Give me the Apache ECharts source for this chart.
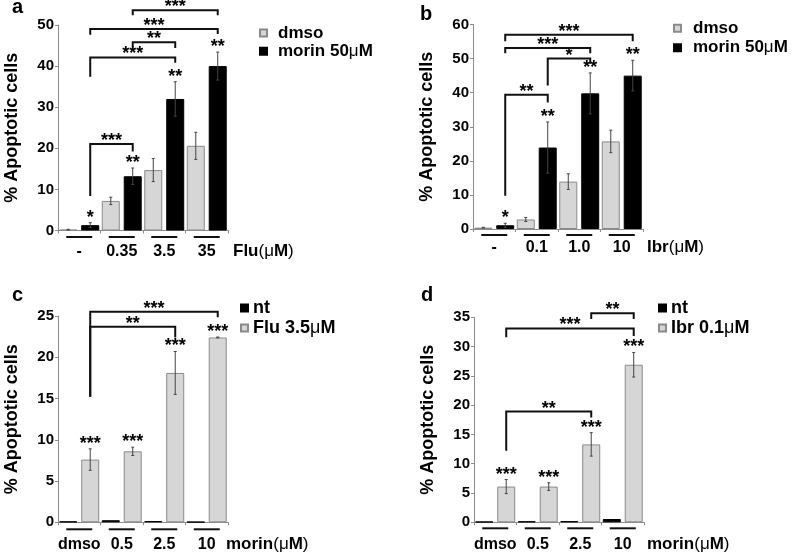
<!DOCTYPE html>
<html>
<head>
<meta charset="utf-8">
<script src="https://cdn.jsdelivr.net/npm/echarts@6/dist/echarts.min.js"></script>
<style>
html,body{margin:0;padding:0;background:#fff;}
#chart{width:797px;height:556px;}
</style>
</head>
<body>
<div id="chart"></div>
<script>
// ---------------- DATA ----------------
// Panel a
const catsA = ['-', '0.35', '3.5', '35'];
const dmsoA = [0.2, 7.2, 14.7, 20.6];
const dmsoErrA = [0.1, 0.9, 2.8, 3.3];
const morinA = [1.3, 13.2, 32.0, 40.0];
const morinErrA = [0.6, 2.0, 4.2, 3.4];
const dmsoStarsA = ['', '', '', ''];
const morinStarsA = ['*', '**', '**', '**'];
// [fromGroup, toGroup, level, leftLegEnd, rightLegEnd, label]
const bracketsA = [
  [0, 1, 21.05, 8.4, 19.2, '***'],
  [0, 2, 42.1, 37.4, 40.8, '***'],
  [1, 2, 45.8, 44.6, 44.4, '**'],
  [0, 3, 49.0, 47.6, 47.8, '***'],
  [1, 3, 53.6, 52.4, 52.4, '***']
];
const ticksA = [0, 50, 10];

// Panel b
const catsB = ['-', '0.1', '1.0', '10'];
const dmsoB = [0.4, 2.8, 13.9, 25.7];
const dmsoErrB = [0.1, 0.6, 2.3, 3.3];
const morinB = [1.1, 23.9, 39.8, 45.0];
const morinErrB = [0.6, 7.5, 6.0, 4.5];
const dmsoStarsB = ['', '', '', ''];
const morinStarsB = ['*', '**', '**', '**'];
const bracketsB = [
  [0, 1, 39.4, 9.75, 37.1, '**'],
  [1, 2, 50.0, 42.1, 48.5, '*'],
  [0, 2, 53.1, 51.6, 51.6, '***'],
  [0, 3, 57.0, 55.1, 55.1, '***']
];
const ticksB = [0, 60, 10];

// Panel c
const catsC = ['dmso', '0.5', '2.5', '10'];
const ntC = [0.1, 0.25, 0.15, 0.05];
const ntErrC = [0, 0, 0, 0];
const fluC = [7.6, 8.6, 18.1, 22.4];
const fluErrC = [1.3, 0.5, 2.6, 0.05];
const ntStarsC = ['', '', '', ''];
const fluStarsC = ['***', '***', '***', '***'];
const bracketsC = [
  [0, 3, 25.5, 15.2, 24.85, '***'],
  [0, 2, 23.7, 15.2, 22.4, '**']
];
const ticksC = [0, 25, 5];

// Panel d
const catsD = ['dmso', '0.5', '2.5', '10'];
const ntD = [0.1, 0.17, 0.2, 0.56];
const ntErrD = [0, 0, 0, 0];
const ibrD = [6.1, 6.1, 13.3, 26.9];
const ibrErrD = [1.2, 0.65, 2.0, 2.1];
const ntStarsD = ['', '', '', ''];
const ibrStarsD = ['***', '***', '***', '***'];
const bracketsD = [
  [0, 2, 18.9, 12.2, 17.9, '**'],
  [0, 3, 33.1, 31.6, 31.8, '***'],
  [2, 3, 35.7, 34.7, 34.7, '**']
];
const ticksD = [0, 35, 5];

// ---------------- STYLE / LAYOUT ----------------
const FONT = '"Liberation Sans", Arial, Helvetica, sans-serif';
const BAR_W = 18;
const BAR_GAP = 0.22;
const OFF = BAR_W * (1 + BAR_GAP) / 2;
const GRAY = {color: '#d6d6d6', borderColor: '#8a8a8a', borderWidth: 1};
const BLACK = {color: '#000000', borderColor: '#000000', borderWidth: 1};
const AXIS_COL = '#8c8c8c';
const STAR_FONT = 'bold 18px ' + FONT;

const panels = [
  {grid: {left: 58, top: 25, width: 170, height: 205.5}, cats: catsA, ticks: ticksA,
   names: ['dmso', 'morin 50μM'], vals: [dmsoA, morinA], errs: [dmsoErrA, morinErrA],
   stars: [dmsoStarsA, morinStarsA], styles: [GRAY, BLACK], brackets: bracketsA, labelMargin: 13.5, ulGap: 6.5},
  {grid: {left: 473, top: 24.5, width: 170, height: 204.5}, cats: catsB, ticks: ticksB,
   names: ['dmso', 'morin 50μM'], vals: [dmsoB, morinB], errs: [dmsoErrB, morinErrB],
   stars: [dmsoStarsB, morinStarsB], styles: [GRAY, BLACK], brackets: bracketsB, labelMargin: 11, ulGap: 6},
  {grid: {left: 58, top: 316, width: 170, height: 206.3}, cats: catsC, ticks: ticksC,
   names: ['nt', 'Flu 3.5μM'], vals: [ntC, fluC], errs: [ntErrC, fluErrC],
   stars: [ntStarsC, fluStarsC], styles: [BLACK, GRAY], brackets: bracketsC, labelMargin: 14.5, ulGap: 7},
  {grid: {left: 474, top: 317.3, width: 170, height: 205}, cats: catsD, ticks: ticksD,
   names: ['nt', 'Ibr 0.1μM'], vals: [ntD, ibrD], errs: [ntErrD, ibrErrD],
   stars: [ntStarsD, ibrStarsD], styles: [BLACK, GRAY], brackets: bracketsD, labelMargin: 14.5, ulGap: 6}
];

const grids = [], xAxes = [], yAxes = [], series = [];

panels.forEach((p, i) => {
  grids.push(Object.assign({outerBoundsMode: 'none', containLabel: false}, p.grid));
  xAxes.push({
    type: 'category', gridIndex: i, data: p.cats,
    axisLine: {show: true, lineStyle: {color: AXIS_COL, width: 1}},
    axisTick: {show: true, length: 3, lineStyle: {color: AXIS_COL}},
    axisLabel: {margin: p.labelMargin, color: '#000', fontWeight: 'bold', fontSize: 16, fontFamily: FONT, interval: 0},
    splitLine: {show: false}
  });
  yAxes.push({
    type: 'value', gridIndex: i, min: p.ticks[0], max: p.ticks[1], interval: p.ticks[2],
    name: '% Apoptotic cells', nameLocation: 'middle', nameGap: 37,
    nameTextStyle: {color: '#000', fontWeight: 'bold', fontSize: 18, fontFamily: FONT},
    axisLine: {show: true, lineStyle: {color: AXIS_COL, width: 1}},
    axisTick: {show: true, length: 3, lineStyle: {color: AXIS_COL}},
    axisLabel: {margin: 4, color: '#000', fontWeight: 'bold', fontSize: 15, fontFamily: FONT},
    splitLine: {show: false}
  });
  // bars
  [0, 1].forEach(s => {
    series.push({
      type: 'bar', name: p.names[s], xAxisIndex: i, yAxisIndex: i,
      data: p.vals[s], barWidth: BAR_W, barGap: (BAR_GAP * 100) + '%',
      itemStyle: p.styles[s], silent: true, animation: false, z: 2
    });
  });
  // error bars + stars
  [0, 1].forEach(s => {
    const sign = s === 0 ? -1 : 1;
    const starList = p.stars[s];
    series.push({
      type: 'custom', name: 'err' + i + s, xAxisIndex: i, yAxisIndex: i, clip: false, z: 4,
      silent: true, animation: false,
      data: p.vals[s].map((v, k) => [k, v, p.errs[s][k]]),
      encode: {x: 0, y: 1},
      renderItem: (params, api) => {
        const cat = api.value(0), v = api.value(1), e = api.value(2);
        const x = api.coord([cat, v])[0] + sign * OFF;
        const yt = api.coord([cat, v + e])[1];
        const yb = api.coord([cat, v - e])[1];
        const children = [];
        if (e > 0) {
          children.push({type: 'line', shape: {x1: x, y1: yt, x2: x, y2: yb}, style: {stroke: '#444', lineWidth: 1}});
          children.push({type: 'line', shape: {x1: x - 1.5, y1: yt, x2: x + 1.5, y2: yt}, style: {stroke: '#444', lineWidth: 1}});
          children.push({type: 'line', shape: {x1: x - 1.5, y1: yb, x2: x + 1.5, y2: yb}, style: {stroke: '#444', lineWidth: 1}});
        }
        const st = starList[params.dataIndex];
        if (st) {
          children.push({type: 'text', style: {text: st, x: x, y: yt - 5, align: 'center', verticalAlign: 'middle', font: STAR_FONT, fill: '#000'}});
        }
        return {type: 'group', children: children};
      }
    });
  });
  // significance brackets
  const br = p.brackets;
  series.push({
    type: 'custom', name: 'br' + i, xAxisIndex: i, yAxisIndex: i, clip: false, z: 5,
    silent: true, animation: false,
    data: br.map(b => [b[0], b[2]]),
    encode: {x: 0, y: 1},
    renderItem: (params, api) => {
      const b = br[params.dataIndex];
      const x1 = api.coord([b[0], 0])[0] + OFF;
      const x2 = api.coord([b[1], 0])[0] + OFF;
      const yl = api.coord([b[0], b[2]])[1];
      const y1 = api.coord([b[0], b[3]])[1];
      const y2 = api.coord([b[1], b[4]])[1];
      return {type: 'group', children: [
        {type: 'polyline', shape: {points: [[x1, y1], [x1, yl], [x2, yl], [x2, y2]]}, style: {stroke: '#111', lineWidth: 2, fill: null}},
        {type: 'text', style: {text: b[5], x: (x1 + x2) / 2, y: yl - 3, align: 'center', verticalAlign: 'middle', font: STAR_FONT, fill: '#000'}}
      ]};
    }
  });
  // group underlines
  const gap = p.ulGap;
  series.push({
    type: 'custom', name: 'ul' + i, xAxisIndex: i, yAxisIndex: i, clip: false, z: 5,
    silent: true, animation: false,
    data: p.cats.map((c, k) => [k, 0]),
    encode: {x: 0, y: 1},
    renderItem: (params, api) => {
      const pt = api.coord([api.value(0), 0]);
      return {type: 'line', shape: {x1: pt[0] - 13, y1: pt[1] + gap, x2: pt[0] + 13, y2: pt[1] + gap}, style: {stroke: '#111', lineWidth: 2}};
    }
  });
});

function legendRich(size, pad) {
  return {
    t: {fontWeight: 'bold', fontSize: size, fontFamily: FONT, color: '#000', lineHeight: size},
    p: {fontWeight: 'bold', fontSize: size, fontFamily: FONT, color: '#000', lineHeight: size, padding: [0, 0, 0, pad]},
    u: {fontWeight: 'normal', fontSize: size, fontFamily: FONT, color: '#000', lineHeight: size}
  };
}
function legendFmt(name) {
  const m = name.match(/^(.*)μ(.*)$/);
  if (m) return '{p|' + m[1] + '}{u|μ}{t|' + m[2] + '}';
  return '{p|' + name + '}';
}
function makeLegend(names, left, top, size, gapItems, pad) {
  return {
    data: names, orient: 'vertical', left: left, top: top, padding: 0,
    itemWidth: 7, itemHeight: 7, itemGap: gapItems, icon: 'rect', selectedMode: false,
    formatter: legendFmt,
    textStyle: {fontSize: size, fontWeight: 'bold', fontFamily: FONT, color: '#000', lineHeight: size, rich: legendRich(size, pad)}
  };
}

const legends = [
  makeLegend(['dmso', 'morin 50μM'], 259, 24.5, 17, 1.3, 6),
  makeLegend(['dmso', 'morin 50μM'], 673, 19.8, 17, 2.4, 7),
  makeLegend(['nt', 'Flu 3.5μM'], 240, 299, 18, 2, 0),
  makeLegend(['nt', 'Ibr 0.1μM'], 658, 299, 18, 2, 0)
];

function unitText(name, x, y) {
  return {
    type: 'text', left: x, top: y - 9, silent: true,
    style: {
      text: '{b|' + name + '}{r|(μ}{b|M}{r|)}',
      rich: {
        b: {fontWeight: 'bold', fontSize: 17, fontFamily: FONT, fill: '#000'},
        r: {fontWeight: 'normal', fontSize: 17, fontFamily: FONT, fill: '#000'}
      }
    }
  };
}
function letter(t, x, y) {
  return {type: 'text', left: x, top: y, silent: true,
    style: {text: t, font: 'bold 20px ' + FONT, fill: '#000'}};
}

const option = {
  backgroundColor: '#ffffff',
  animation: false,
  grid: grids, xAxis: xAxes, yAxis: yAxes, series: series,
  legend: legends,
  graphic: [
    letter('a', 12, -3), letter('b', 420, 4), letter('c', 12, 285), letter('d', 421, 285),
    unitText('Flu', 233, 252), unitText('Ibr', 647, 248),
    unitText('morin', 226, 545), unitText('morin', 647, 545)
  ]
};

const chart = echarts.init(document.getElementById('chart'), null, {renderer: 'canvas'});
chart.setOption(option);
</script>
</body>
</html>
